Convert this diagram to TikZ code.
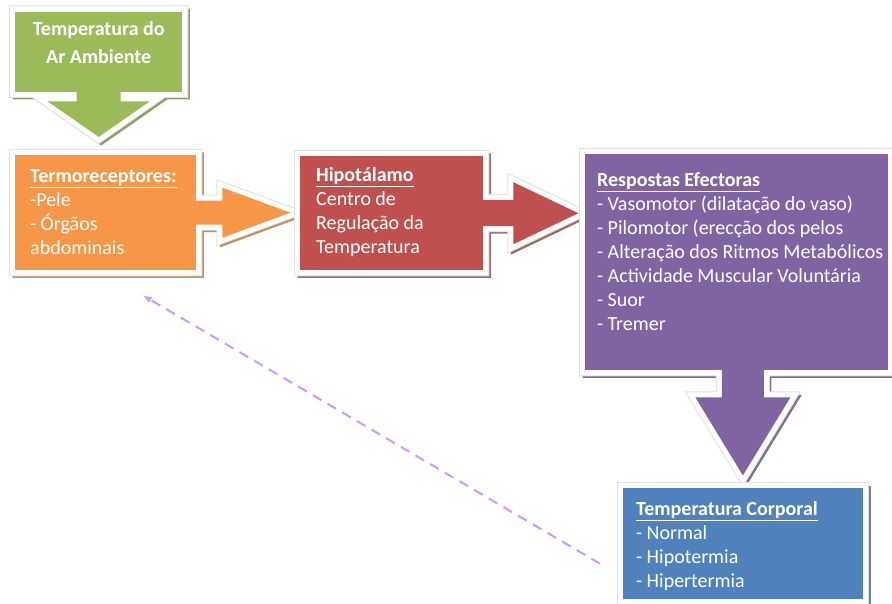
\documentclass[tikz,border=0pt]{standalone}
\usepackage{fontspec}
\setmainfont{Carlito}
\usetikzlibrary{calc}

\definecolor{verde}{HTML}{9BBB59}
\definecolor{laranja}{HTML}{F79646}
\definecolor{vermelho}{HTML}{C0504D}
\definecolor{roxo}{HTML}{8064A2}
\definecolor{azul}{HTML}{4F81BD}
\definecolor{lilas}{HTML}{CC99FF}

\pgfdeclarelayer{fundo}
\pgfsetlayers{fundo,main}

\tikzset{
  caixa/.style={anchor=north west, inner ysep=0pt, align=left, text=white,
    font=\fontsize{20}{24}\selectfont, execute at begin node={\spaceskip=0.22em\relax}},
  moldura/.style={draw=white, line width=10pt, line join=miter,
    preaction={draw=#1, line width=10pt, line join=miter, transform canvas={shift={(2.5,2.5)}}},
    preaction={draw=black!12, line width=12pt, line join=miter}},
  retorno/.style={draw=lilas, line width=2pt, dash pattern=on 10pt off 7pt, >=latex, ->},
}

\begin{document}
\begin{tikzpicture}[x=1pt,y=-1pt]
\useasboundingbox (0,0) rectangle (892,604);

% caixas
\node[caixa, fill=verde, align=center, text width=167, inner xsep=0pt, text height=23.5, text depth=56.5,
  font=\bfseries\fontsize{20}{28}\selectfont] (ar) at (15,11.5) {Temperatura do\\Ar Ambiente};
\node[caixa, fill=laranja, text width=151, inner xsep=15, text height=27.7, text depth=87.3] (termo) at (15,155)
  {\underline{\textbf{Termoreceptores:}}\\-Pele\\- Órgãos\\abdominais};
\node[caixa, fill=vermelho, text width=151, inner xsep=16, text height=25.7, text depth=88.3] (hipo) at (300,156)
  {\underline{\textbf{Hipotálamo}}\\Centro de\\Regulação da\\Temperatura};
\node[caixa, fill=roxo, text width=279, inner xsep=12, text height=32.7, text depth=183.3] (resp) at (585,154)
  {\underline{\textbf{Respostas Efectoras}}\\- Vasomotor (dilatação do vaso)\\- Pilomotor (erecção dos pelos\\\mbox{- Alteração dos Ritmos Metabólicos}\\- Actividade Muscular Voluntária\\- Suor\\- Tremer};
\node[caixa, fill=azul, text width=213.4, inner xsep=13.3, text height=27, text depth=84] (corp) at (622.7,488)
  {\underline{\textbf{Temperatura Corporal}}\\- Normal\\- Hipotermia\\- Hipertermia};

\coordinate (pe) at (resp.south -| corp.north);

% setas
\fill[verde] ($(ar.south)+(-22,-6)$) -- ($(ar.south)+(-22,9.5)$) -- ($(ar.south)+(-51,9.5)$) -- ($(ar.south)+(0,45)$)
  -- ($(ar.south)+(51,9.5)$) -- ($(ar.south)+(22,9.5)$) -- ($(ar.south)+(22,-6)$) -- cycle;
\fill[laranja] ($(termo.east)+(-6,-12)$) -- ($(termo.east)+(26,-12)$) -- ($(termo.east)+(26,-25)$) -- ($(termo.east)+(94,0)$)
  -- ($(termo.east)+(26,25)$) -- ($(termo.east)+(26,12)$) -- ($(termo.east)+(-6,12)$) -- cycle;
\fill[vermelho] ($(hipo.east)+(-6,-13)$) -- ($(hipo.east)+(30,-13)$) -- ($(hipo.east)+(30,-31)$) -- ($(hipo.east)+(95,0)$)
  -- ($(hipo.east)+(30,31)$) -- ($(hipo.east)+(30,13)$) -- ($(hipo.east)+(-6,13)$) -- cycle;
\fill[roxo] ($(pe)+(-21,-6)$) -- ($(pe)+(-21,27)$) -- ($(pe)+(-47.5,27)$) -- ($(pe)+(0,105)$)
  -- ($(pe)+(47.5,27)$) -- ($(pe)+(21,27)$) -- ($(pe)+(21,-6)$) -- cycle;

\begin{pgfonlayer}{fundo}
\path[moldura=verde!50!gray] (ar.north west) rectangle (ar.south east)
  ($(ar.south)+(-22,-6)$) -- ($(ar.south)+(-22,9.5)$) -- ($(ar.south)+(-51,9.5)$) -- ($(ar.south)+(0,45)$)
  -- ($(ar.south)+(51,9.5)$) -- ($(ar.south)+(22,9.5)$) -- ($(ar.south)+(22,-6)$) -- cycle;
\path[moldura=laranja!60!gray] (termo.north west) rectangle (termo.south east)
  ($(termo.east)+(-6,-12)$) -- ($(termo.east)+(26,-12)$) -- ($(termo.east)+(26,-25)$) -- ($(termo.east)+(94,0)$)
  -- ($(termo.east)+(26,25)$) -- ($(termo.east)+(26,12)$) -- ($(termo.east)+(-6,12)$) -- cycle;
\path[moldura=vermelho!50!gray] (hipo.north west) rectangle (hipo.south east)
  ($(hipo.east)+(-6,-13)$) -- ($(hipo.east)+(30,-13)$) -- ($(hipo.east)+(30,-31)$) -- ($(hipo.east)+(95,0)$)
  -- ($(hipo.east)+(30,31)$) -- ($(hipo.east)+(30,13)$) -- ($(hipo.east)+(-6,13)$) -- cycle;
\path[moldura=roxo!60!gray] (resp.north west) rectangle (resp.south east)
  ($(pe)+(-21,-6)$) -- ($(pe)+(-21,27)$) -- ($(pe)+(-47.5,27)$) -- ($(pe)+(0,105)$)
  -- ($(pe)+(47.5,27)$) -- ($(pe)+(21,27)$) -- ($(pe)+(21,-6)$) -- cycle;
\path[moldura=azul!50!gray] (corp.north west) rectangle (corp.south east);
\end{pgfonlayer}

% retroaccao
\coordinate (fbini) at ($(corp.west)+(-22.7,20)$);
\coordinate (fbfim) at ($(termo.south west)+(128,25)$);
\draw[retorno] (fbini) -- (fbfim);

\end{tikzpicture}
\end{document}
